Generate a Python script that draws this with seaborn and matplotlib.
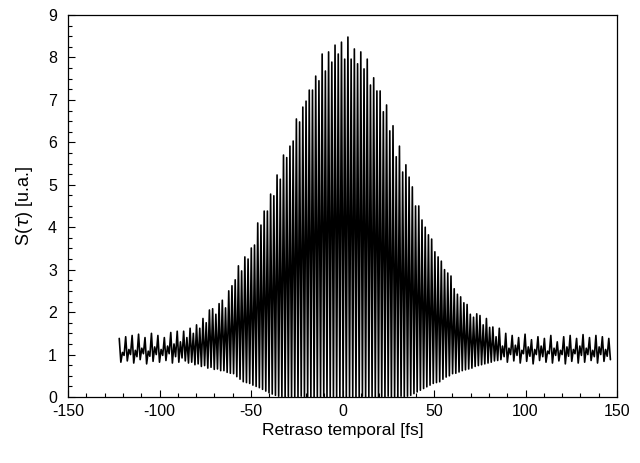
import numpy as np
import pandas as pd
import matplotlib
matplotlib.use("Agg")
import matplotlib.pyplot as plt
from matplotlib.ticker import MultipleLocator
import seaborn as sns

# delay grid of the fringe maxima (fs); each maximum is followed by a minimum half a step later
delay_start = -122.0
fringe_step = 1.76

# S(tau) at each fringe maximum from left to right
peak_values = [
    1.38, 1.05, 1.42, 1.12, 1.45, 1.10, 1.48, 1.15, 1.40, 1.08,
    1.50, 1.18, 1.45, 1.12, 1.40, 1.20, 1.52, 1.25, 1.55, 1.30,
    1.55, 1.40, 1.62, 1.50, 1.70, 1.62, 1.85, 1.75, 2.05, 2.08,
    1.95, 2.20, 2.28, 2.10, 2.50, 2.62,
    2.76, 3.09, 2.97, 3.30, 3.25, 3.51, 3.58, 4.10, 4.05, 4.38,
    4.38, 4.78, 4.74, 5.23, 5.13, 5.70, 5.64, 5.91, 6.03, 6.55,
    6.48, 6.83, 6.97, 7.23, 7.23, 7.56, 7.45, 8.08, 7.68, 8.13,
    7.89, 8.29, 8.08, 8.36, 7.96, 8.48, 7.96, 8.20, 7.85, 8.13,
    7.73, 7.96, 7.35, 7.52, 7.21, 7.21, 6.72, 6.88, 6.27, 6.39,
    5.66, 5.91, 5.30, 5.47, 5.18, 4.95, 4.50, 4.50, 4.17, 4.00,
    3.82, 3.72, 3.42, 3.30, 3.20, 3.00, 2.92, 2.85,
    2.55, 2.42, 2.36, 2.22, 2.18, 1.95, 1.88, 1.96, 1.92, 1.70,
    1.85, 1.64, 1.65, 1.42, 1.62,
    1.20, 1.50, 1.15, 1.45, 1.22, 1.40, 1.10, 1.48, 1.18, 1.35,
    1.12, 1.42, 1.20, 1.38, 1.08, 1.45, 1.15, 1.30, 1.10, 1.42,
    1.18, 1.45, 1.12, 1.38, 1.20, 1.47, 1.15, 1.40, 1.10, 1.45,
    1.18, 1.42, 1.12, 1.38,
]

# S(tau) at the fringe minimum that follows each maximum
valley_values = [
    0.82, 0.98, 0.85, 1.00, 0.80, 0.95, 0.88, 1.02, 0.78, 0.96,
    0.84, 1.00, 0.82, 0.98, 0.86, 1.02, 0.80, 0.95, 0.82, 0.92,
    0.85, 0.80, 0.82, 0.76, 0.78, 0.72, 0.74, 0.68, 0.70, 0.65,
    0.66, 0.62, 0.62, 0.58, 0.56,
    0.55, 0.48, 0.42, 0.36, 0.34, 0.32, 0.28, 0.25, 0.22, 0.18,
    0.14, 0.10, 0.07, 0.04, 0.02,
    0.01, 0.00, 0.02, 0.00, 0.01, 0.00, 0.02, 0.00, 0.01, 0.00,
    0.00, 0.01, 0.00, 0.02, 0.00, 0.00, 0.01, 0.00, 0.00, 0.01,
    0.00, 0.00, 0.01, 0.00, 0.00, 0.02, 0.00, 0.00, 0.01, 0.00,
    0.00, 0.01, 0.00, 0.02, 0.00, 0.01, 0.00, 0.02, 0.01,
    0.02, 0.04, 0.08, 0.12, 0.16, 0.20, 0.24, 0.28, 0.32, 0.34,
    0.36, 0.42, 0.47, 0.50, 0.55, 0.56, 0.59, 0.62, 0.64, 0.66,
    0.68, 0.72, 0.74, 0.76, 0.78, 0.80, 0.82, 0.85, 0.86, 0.88,
    0.95, 0.82, 1.00, 0.85, 0.98, 0.80, 1.02, 0.84, 0.96, 0.78,
    1.00, 0.86, 0.95, 0.82, 1.02, 0.80, 0.98, 0.85, 1.00, 0.78,
    0.96, 0.84, 1.02, 0.80, 0.98, 0.82, 1.00, 0.86, 0.95, 0.80,
    1.00, 0.84, 0.96, 0.88,
]

n = min(len(peak_values), len(valley_values))
peak_t = delay_start + fringe_step * np.arange(n)
t = np.empty(2 * n)
s = np.empty(2 * n)
t[0::2] = peak_t
t[1::2] = peak_t + fringe_step / 2
s[0::2] = peak_values[:n]
s[1::2] = valley_values[:n]
df = pd.DataFrame({"delay": t, "signal": s})

sns.set_style("ticks")
plt.rcParams["font.family"] = ["Liberation Sans", "DejaVu Sans"]
plt.rcParams["axes.unicode_minus"] = False
plt.rcParams["text.color"] = "black"
plt.rcParams["axes.labelcolor"] = "black"
plt.rcParams["xtick.labelcolor"] = "black"
plt.rcParams["ytick.labelcolor"] = "black"

fig = plt.figure(figsize=(6.4, 4.63), dpi=100)
ax = fig.add_axes([68 / 640, 66 / 463, 549 / 640, 382 / 463])
sns.lineplot(data=df, x="delay", y="signal", ax=ax, color="black",
             linewidth=1.2, estimator=None)

ax.set_xlim(-150, 150)
ax.set_ylim(0, 9)
ax.xaxis.set_major_locator(MultipleLocator(50))
ax.xaxis.set_minor_locator(MultipleLocator(10))
ax.yaxis.set_major_locator(MultipleLocator(1))
ax.yaxis.set_minor_locator(MultipleLocator(0.25))
ax.tick_params(which="both", direction="in", top=False, right=False,
               labelsize=11.5, width=0.8, color="black", labelcolor="black")
ax.tick_params(which="major", length=5)
ax.tick_params(which="minor", length=3)
ax.tick_params(axis="y", which="major", pad=8)
ax.tick_params(axis="x", which="major", pad=5)
for sp in ax.spines.values():
    sp.set_visible(True)
    sp.set_linewidth(0.9)
    sp.set_color("black")

ax.set_xlabel("Retraso temporal [fs]", fontsize=12.5, labelpad=3)
ax.set_ylabel("S($\\tau$) [u.a.]", fontsize=13, labelpad=9)

fig.savefig("out.png", dpi=100)
